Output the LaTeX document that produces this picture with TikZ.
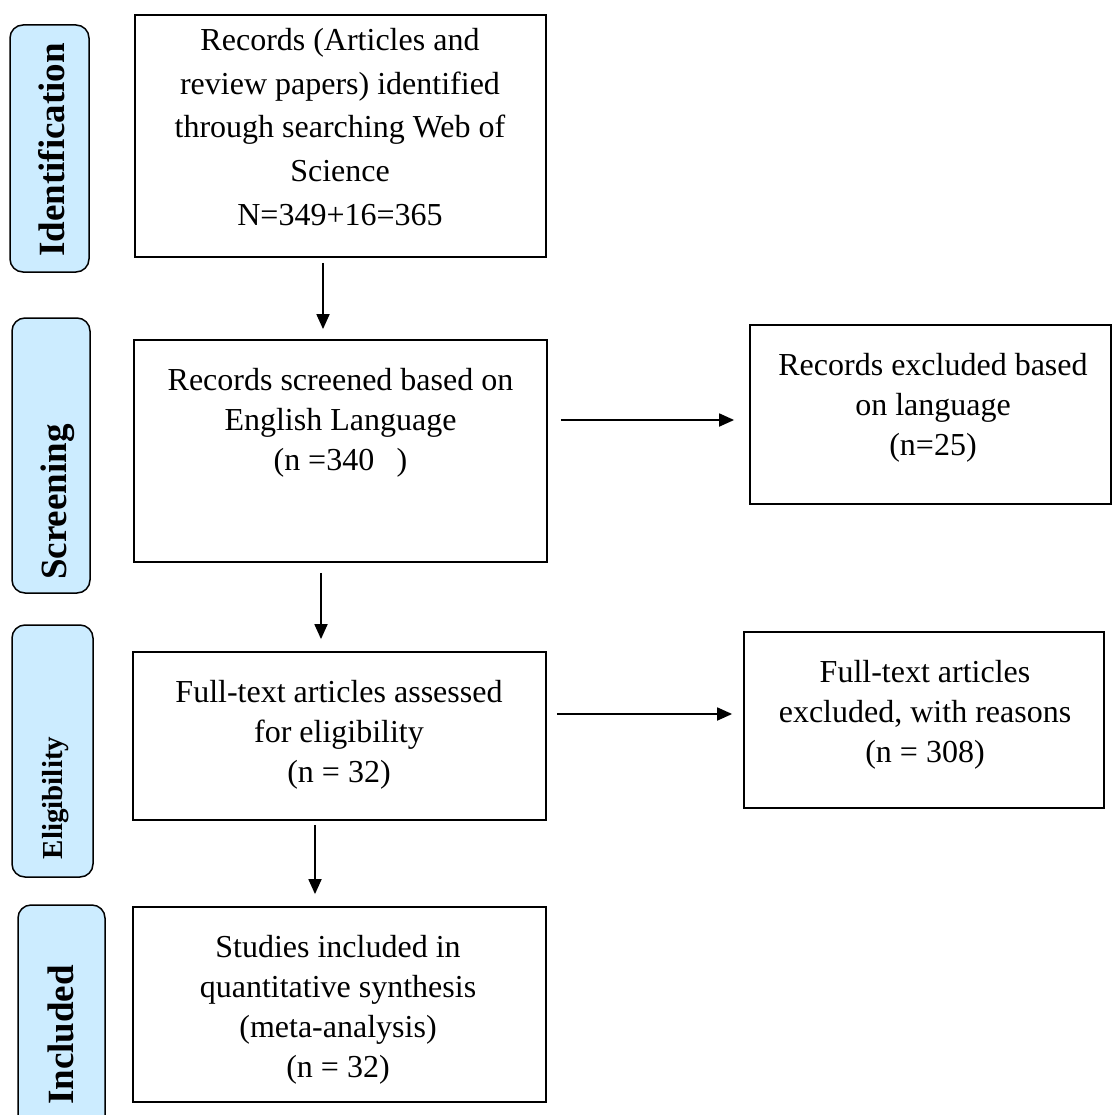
\documentclass[tikz,border=0pt]{standalone}
\usepackage{fontspec}
\setmainfont{Liberation Serif}
\usetikzlibrary{arrows.meta}
\definecolor{sidefill}{RGB}{204,236,255}
\begin{document}
\begin{tikzpicture}[x=1pt,y=-1pt,
  mainbox/.style={draw, line width=1.8pt, inner sep=0pt},
  txt/.style={align=center, inner sep=0pt, anchor=north, font=\fontsize{32}{40}\selectfont},
  sidebox/.style={draw, fill=sidefill, line width=1.5pt, rounded corners=13pt, inner sep=0pt},
  sidetxt/.style={rotate=90, anchor=base, inner sep=0pt, font=\bfseries\fontsize{37}{37}\selectfont},
  arr/.style={line width=1.8pt, -{Triangle[length=15pt,width=13pt]}}]
\useasboundingbox (0,0) rectangle (1113,1115);
\clip (0,0) rectangle (1113,1115);

% side phase boxes
\node[sidebox, minimum width=79pt, minimum height=247pt] (s1) at (49.5,148.5) {};
\node[sidebox, minimum width=78pt, minimum height=275pt] (s2) at (51,455.5) {};
\node[sidebox, minimum width=81pt, minimum height=252pt] (s3) at (52.5,751) {};
\node[sidebox, minimum width=87pt, minimum height=235pt] (s4) at (61.5,1022.5) {};
\node[sidetxt] (t1) at (64,150) {Identification};
\node[sidetxt] (t2) at (66,502) {Screening};
\node[sidetxt, font=\bfseries\fontsize{29}{29}\selectfont] (t3) at (62,798) {Eligibility};
\node[sidetxt] (t4) at (73,1035) {Included};

% main boxes
\node[mainbox, minimum width=411pt, minimum height=242pt] (b1) at (340.5,136) {};
\node[mainbox, minimum width=413pt, minimum height=222pt] (b2) at (340.5,451) {};
\node[mainbox, minimum width=413pt, minimum height=168pt] (b3) at (339.5,736) {};
\node[mainbox, minimum width=413pt, minimum height=195pt] (b4) at (339.5,1004.5) {};
\node[mainbox, minimum width=361pt, minimum height=179pt] (r1) at (930.5,414.5) {};
\node[mainbox, minimum width=360pt, minimum height=176pt] (r2) at (924,720) {};

% texts
\node[txt, font=\fontsize{32}{43.75}\selectfont] (l1) at (340,28) {Records (Articles and\\review papers) identified\\through searching Web of\\Science\\N=349+16=365};
\node[txt] (l2) at (340.5,368) {Records screened based on\\English Language\\(n =340\hspace*{0.7em})};
\node[txt] (l3) at (339,680) {Full-text articles assessed\\for eligibility\\(n = 32)};
\node[txt] (l4) at (338,935) {Studies included in\\quantitative synthesis\\(meta-analysis)\\(n = 32)};
\node[txt] (l5) at (933,353) {Records excluded based\\on language\\(n=25)};
\node[txt] (l6) at (925,660) {Full-text articles\\excluded, with reasons\\(n = 308)};

% connectors
\draw[arr] ([xshift=-17.5pt,yshift=-5pt]b1.south) -- ([xshift=-17.5pt,yshift=10pt]b2.north);
\draw[arr] ([xshift=-19.5pt,yshift=-10pt]b2.south) -- ([xshift=-18.5pt,yshift=12pt]b3.north);
\draw[arr] ([xshift=-24.5pt,yshift=-4pt]b3.south) -- ([xshift=-24.5pt,yshift=12pt]b4.north);
\draw[arr] ([xshift=13pt,yshift=31pt]b2.east) -- ([xshift=-15pt,yshift=-5.5pt]r1.west);
\draw[arr] ([xshift=10pt,yshift=22pt]b3.east) -- ([xshift=-11pt,yshift=6pt]r2.west);
\end{tikzpicture}
\end{document}
